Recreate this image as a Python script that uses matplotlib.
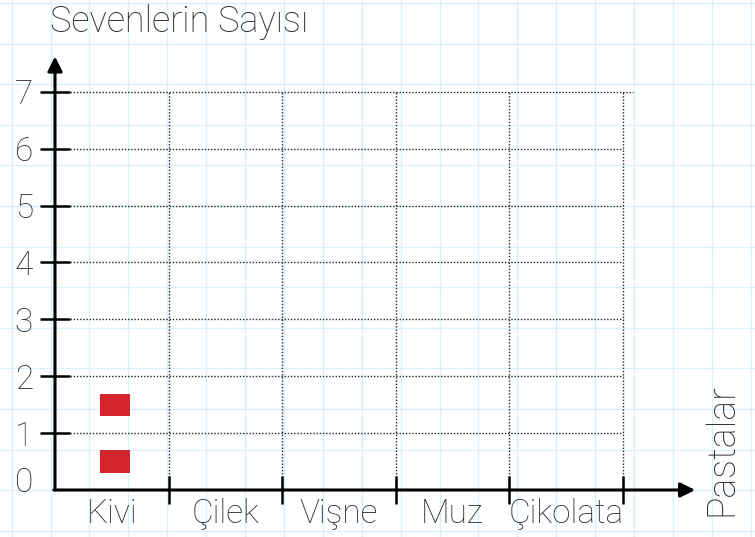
import numpy as np
import matplotlib
matplotlib.use("Agg")
import matplotlib.pyplot as plt

# pictogram data: one block = one person
categories = ["Kivi", "Çilek", "Vişne", "Muz", "Çikolata"]
counts = [2, 0, 0, 0, 0]
y_ticks = [1, 2, 3, 4, 5, 6, 7]
title = "Sevenlerin Sayısı"
x_title = "Pastalar"

FONT = ["Roboto", "DejaVu Sans"]
WEIGHT = "light"
TEXT_COLOR = "#2e2e2e"
BLOCK_COLOR = "#d4262e"
PAPER_COLOR = "#dcf0fc"

W, H, DPI = 755, 537, 100
fig = plt.figure(figsize=(W / DPI, H / DPI), dpi=DPI)

# graph paper background
bg = fig.add_axes([0, 0, 1, 1])
bg.set_xlim(0, W)
bg.set_ylim(H, 0)
bg.axis("off")
for xv in np.arange(11.7, W, 38.9):
    bg.axvline(xv, color=PAPER_COLOR, lw=1.0, zorder=0)
for yv in np.arange(3.0, H, 40.6):
    bg.axhline(yv, color=PAPER_COLOR, lw=1.0, zorder=0)

# chart axes: x in category units, y in people
x0_px, y0_px = 55, 490
cat_px, unit_px = 113.5, 56.9
xmax, ymax = 5.64, 7.62
ax = fig.add_axes([x0_px / W, (H - y0_px) / H,
                   xmax * cat_px / W, ymax * unit_px / H])
ax.patch.set_alpha(0)
ax.set_xlim(0, xmax)
ax.set_ylim(0, ymax)
for s in ax.spines.values():
    s.set_visible(False)

n = len(categories)

# dotted guide lines
dot = dict(color="#262626", lw=1.0, ls=(0, (1, 1.3)), zorder=1)
for v in y_ticks:
    right = n + 0.09 if v == max(y_ticks) else n
    ax.plot([0.13, right], [v, v], **dot)
for i in range(1, n + 1):
    ax.plot([i, i], [0, max(y_ticks)], **dot)

# axis arrows
arrow = dict(arrowstyle="-|>", lw=2.2, color="black", mutation_scale=22,
             shrinkA=0, shrinkB=0)
ax.annotate("", xy=(0, ymax), xytext=(0, 0), arrowprops=arrow, zorder=4)
ax.annotate("", xy=(xmax, 0), xytext=(-0.01, 0), arrowprops=arrow, zorder=4)

# ticks
ax.set_yticks(y_ticks)
ax.set_yticklabels([str(v) for v in y_ticks])
ax.tick_params(axis="y", direction="inout", length=21.6, width=1.8,
               pad=5, labelsize=24, labelcolor=TEXT_COLOR)
ax.set_xticks(range(1, n + 1))
ax.set_xticklabels([])
ax.tick_params(axis="x", which="major", direction="inout", length=20,
               width=1.8)
ax.set_xticks(np.arange(n) + 0.5, minor=True)
ax.set_xticklabels(categories, minor=True)
ax.tick_params(axis="x", which="minor", length=0, pad=6, labelsize=24,
               labelcolor=TEXT_COLOR)
for lab in ax.get_xticklabels(minor=True) + ax.get_yticklabels():
    lab.set_family(FONT)
    lab.set_fontweight(WEIGHT)
ax.text(-0.27, 0.12, "0", ha="center", va="center", fontsize=24,
        family=FONT, fontweight=WEIGHT, color=TEXT_COLOR, clip_on=False)

# pictogram blocks
for i, c in enumerate(counts):
    for k in range(c):
        ax.bar(i + 0.53, 0.39, bottom=k + 0.305, width=0.27,
               color=BLOCK_COLOR, zorder=3)

ax.text(-0.045, 8.22, title, ha="left", va="center", fontsize=26,
        family=FONT, fontweight=WEIGHT, color=TEXT_COLOR, clip_on=False)
ax.text(5.87, 0.7, x_title, ha="center", va="center", rotation=90,
        fontsize=27, family=FONT, fontweight=WEIGHT, color=TEXT_COLOR,
        clip_on=False)

fig.savefig("out.png", dpi=DPI)
